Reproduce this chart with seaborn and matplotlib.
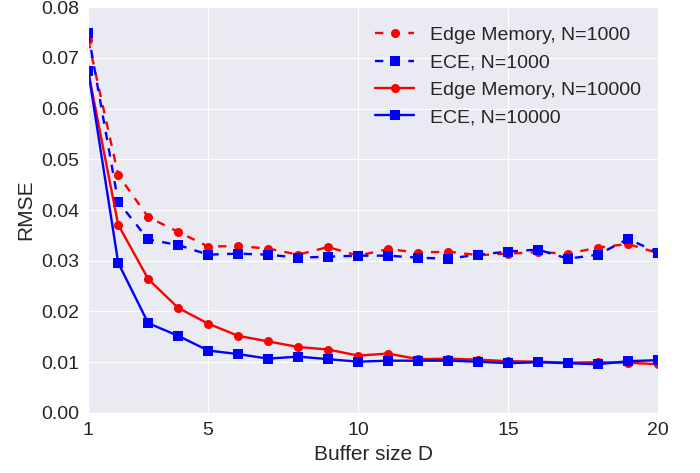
import pandas as pd
import matplotlib
matplotlib.use("Agg")
import matplotlib.pyplot as plt
import seaborn as sns

buffer_size = list(range(1, 21))

em_1000 = [0.0735, 0.0469, 0.0386, 0.0357, 0.0328, 0.0329, 0.0324, 0.0312, 0.0327, 0.0310,
           0.0323, 0.0316, 0.0318, 0.0311, 0.0314, 0.0317, 0.0314, 0.0326, 0.0333, 0.0315]
ece_1000 = [0.0748, 0.0416, 0.0342, 0.0331, 0.0312, 0.0314, 0.0312, 0.0306, 0.0308, 0.0310,
            0.0310, 0.0306, 0.0304, 0.0312, 0.0318, 0.0322, 0.0304, 0.0312, 0.0343, 0.0316]
em_10000 = [0.0673, 0.0371, 0.0264, 0.0207, 0.0176, 0.0152, 0.0141, 0.0130, 0.0125, 0.0113,
            0.0117, 0.0106, 0.0107, 0.0105, 0.0102, 0.0101, 0.0099, 0.0100, 0.0099, 0.0096]
ece_10000 = [0.0675, 0.0296, 0.0177, 0.0152, 0.0123, 0.0116, 0.0107, 0.0111, 0.0106, 0.0101,
             0.0103, 0.0103, 0.0103, 0.0101, 0.0098, 0.0100, 0.0098, 0.0096, 0.0102, 0.0104]

dashed = (0, (6, 6))
series = [
    ("Edge Memory, N=1000", em_1000, "red", "o", dashed),
    ("ECE, N=1000", ece_1000, "blue", "s", dashed),
    ("Edge Memory, N=10000", em_10000, "red", "o", "-"),
    ("ECE, N=10000", ece_10000, "blue", "s", "-"),
]

sns.set_style("darkgrid")
plt.rcParams['font.family'] = ['Liberation Sans', 'DejaVu Sans']
plt.rcParams['lines.scale_dashes'] = False

fig = plt.figure(figsize=(7, 4.73), dpi=100)
ax = fig.add_axes([0.126, 0.127, 0.814, 0.858])

for label, values, color, marker, ls in series:
    df = pd.DataFrame({"D": buffer_size, "RMSE": values})
    sns.lineplot(data=df, x="D", y="RMSE", ax=ax, color=color, marker=marker,
                 linestyle=ls, linewidth=1.7, markersize=6.5, markeredgewidth=0,
                 label=label)

ax.set_xlim(1, 20)
ax.set_ylim(0, 0.08)
ax.set_xticks([1, 5, 10, 15, 20])
ax.set_yticks([0.00, 0.01, 0.02, 0.03, 0.04, 0.05, 0.06, 0.07, 0.08])
ax.set_yticklabels([f"{v:.2f}" for v in ax.get_yticks()])
ax.tick_params(labelsize=14, colors="#262626", length=1.5, width=0.8, pad=5)
ax.set_xlabel("Buffer size D", fontsize=15, color="#262626")
ax.set_ylabel("RMSE", fontsize=15, color="#262626")
ax.legend(loc="upper right", frameon=False, fontsize=14, handlelength=2.0,
          bbox_to_anchor=(1.0, 0.995))

fig.savefig("out.png", dpi=100)
